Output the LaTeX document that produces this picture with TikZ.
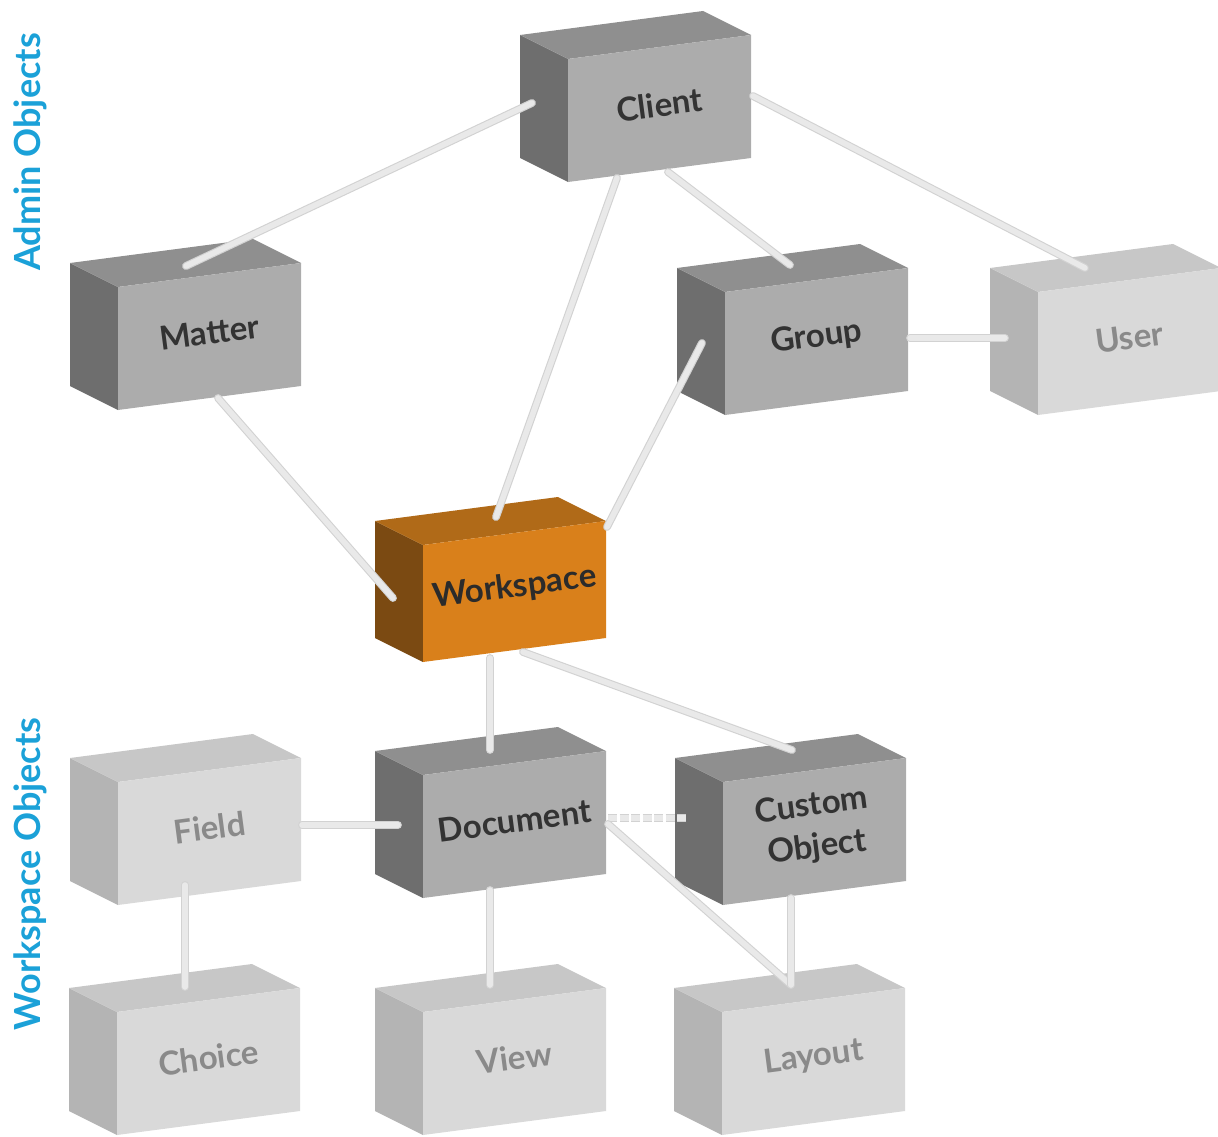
\documentclass[tikz,border=0pt]{standalone}
\usepackage{fontspec}
\setmainfont{Lato}
\usepackage{tikz}
\usepackage{xcolor}
\usetikzlibrary{positioning}
\definecolor{Obj_Blue}{HTML}{1BA1D8}
\definecolor{Obj_Link}{HTML}{E9E9E9}
\definecolor{Obj_LinkEdge}{HTML}{D2D2D2}
\definecolor{dark_front}{HTML}{ACACAC}
\definecolor{dark_side}{HTML}{6E6E6E}
\definecolor{dark_top}{HTML}{8F8F8F}
\definecolor{dark_text}{HTML}{333333}
\definecolor{light_front}{HTML}{D9D9D9}
\definecolor{light_side}{HTML}{B4B4B4}
\definecolor{light_top}{HTML}{C7C7C7}
\definecolor{light_text}{HTML}{8A8A8A}
\definecolor{orange_front}{HTML}{D9801B}
\definecolor{orange_side}{HTML}{7B4A12}
\definecolor{orange_top}{HTML}{B06A18}
\definecolor{orange_text}{HTML}{2B2B2B}
% one 3D box: [height] name, front bottom-left corner, palette, label
\newcommand{\objbox}[5][123]{%
  \begin{scope}[shift={(#3)}]
    \fill[#4_side] (0,0) -- (-48,-24) -- (-48,-24-#1) -- (0,-#1) -- cycle;
    \fill[#4_top] (0,-#1) -- (-48,-24-#1) -- (135,-48-#1) -- (183,-24-#1) -- cycle;
    \fill[#4_front] (0,0) -- (183,-24) -- (183,-24-#1) -- (0,-#1) -- cycle;
    \node[boxlabel, text=#4_text] (#2) at (91.5,-16-#1/2) {#5};
  \end{scope}
}

\begin{document}
\begin{tikzpicture}[x=1pt, y=-1pt,
  boxlabel/.style={font=\fontsize{33}{42}\selectfont\bfseries, rotate=7.5, align=center, inner sep=0pt},
  sidelabel/.style={font=\fontsize{36}{40}\selectfont\bfseries, text=Obj_Blue, rotate=90},
  link/.style={draw=Obj_LinkEdge, line width=1.1pt, double=Obj_Link, double distance=5.6pt, line cap=round},
  dashlink/.style={link, line cap=butt, dash pattern=on 9pt off 2.5pt}]
  \useasboundingbox (0,0) rectangle (1218,1137);
  % Side labels
  \node[sidelabel] (admin) at (30,152) {Admin Objects};
  \node[sidelabel] (wsobj) at (30,874) {Workspace Objects};
  % Admin objects
  \objbox{client}{568,182}{dark}{Client}
  \objbox{matter}{118,410}{dark}{Matter}
  \objbox{group}{725,415}{dark}{Group}
  \objbox{user}{1038,415}{light}{User}
  % Workspace
  \objbox[117]{workspace}{423,662}{orange}{Workspace}
  % Workspace objects
  \objbox{field}{118,905}{light}{Field}
  \objbox{document}{423,898}{dark}{Document}
  \objbox{custom}{723,905}{dark}{Custom\\Object}
  \objbox{choice}{117,1135}{light}{Choice}
  \objbox{view}{423,1135}{light}{View}
  \objbox{layout}{722,1135}{light}{Layout}
  % Attach points of the connectors
  \coordinate (client-w) at (532,103);
  \coordinate (client-s1) at (617,178);
  \coordinate (client-s2) at (668,172);
  \coordinate (client-e) at (753,96);
  \coordinate (matter-n) at (186,266);
  \coordinate (matter-s) at (218,398);
  \coordinate (group-n) at (790,265);
  \coordinate (group-w) at (702,343);
  \coordinate (group-e) at (910,338);
  \coordinate (user-n) at (1085,268);
  \coordinate (user-w) at (1005,338);
  \coordinate (workspace-n) at (496,517);
  \coordinate (workspace-ne) at (607,527);
  \coordinate (workspace-w) at (393,598);
  \coordinate (workspace-s) at (490,658);
  \coordinate (workspace-se) at (523,652);
  \coordinate (field-e) at (302,825);
  \coordinate (field-s) at (185,885);
  \coordinate (document-n) at (490,750);
  \coordinate (document-w) at (398,825);
  \coordinate (document-e) at (608,818);
  \coordinate (document-se) at (608,824);
  \coordinate (document-s) at (490,890);
  \coordinate (custom-n) at (792,750);
  \coordinate (custom-w) at (688,818);
  \coordinate (custom-s) at (791,898);
  \coordinate (choice-n) at (185,987);
  \coordinate (view-n) at (490,985);
  \coordinate (layout-n) at (791,985);
  % Connectors
  \draw[link] (client-w) -- (matter-n);
  \draw[link] (client-s1) -- (workspace-n);
  \draw[link] (client-s2) -- (group-n);
  \draw[link] (client-e) -- (user-n);
  \draw[link] (group-w) -- (workspace-ne);
  \draw[link] (group-e) -- (user-w);
  \draw[link] (matter-s) -- (workspace-w);
  \draw[link] (workspace-s) -- (document-n);
  \draw[link] (workspace-se) -- (custom-n);
  \draw[link] (field-e) -- (document-w);
  \draw[dashlink] (document-e) -- (custom-w);
  \draw[link] (document-se) -- (layout-n);
  \draw[link] (custom-s) -- (layout-n);
  \draw[link] (field-s) -- (choice-n);
  \draw[link] (document-s) -- (view-n);
\end{tikzpicture}
\end{document}
